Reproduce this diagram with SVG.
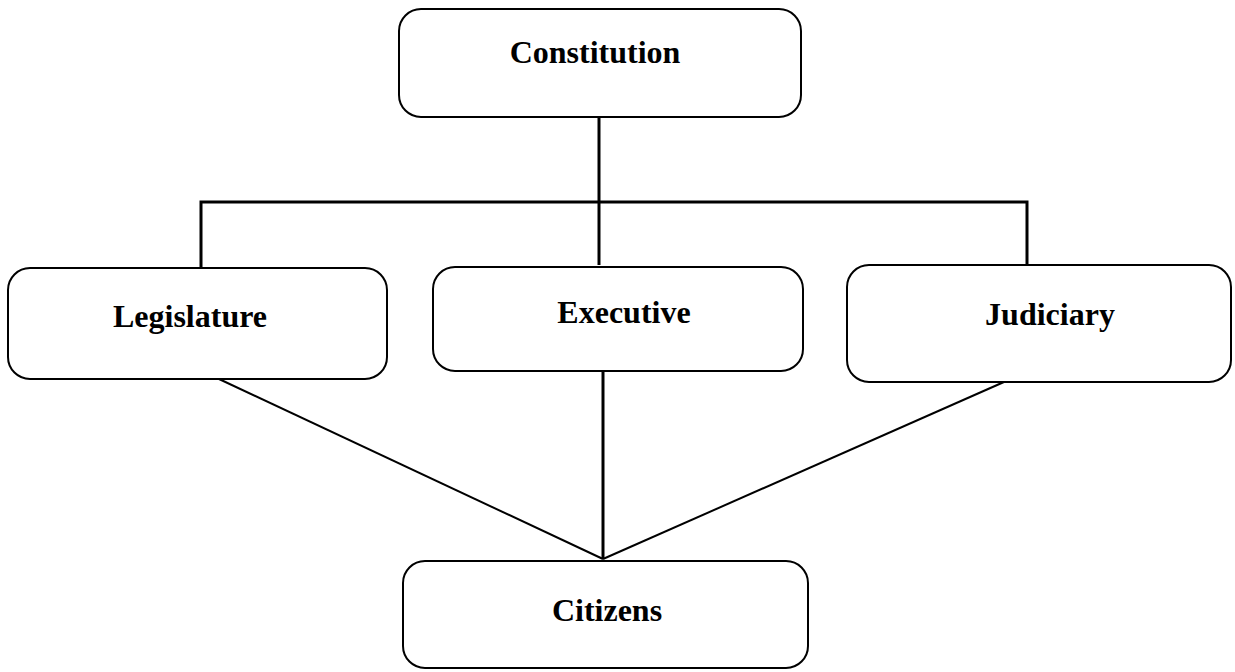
<svg xmlns="http://www.w3.org/2000/svg" width="1235" height="672" viewBox="0 0 1235 672">
<style>
.box{fill:#fff;stroke:#000;stroke-width:2}
.lbl{font-family:"Liberation Serif","Times New Roman",serif;font-weight:bold;font-size:32px;text-anchor:middle;fill:#000}
.thick{stroke:#000;stroke-width:3;fill:none}
.thin{stroke:#000;stroke-width:2;fill:none}
</style>
<rect width="1235" height="672" fill="#fff"/>
<g id="connectors">
<line class="thick" x1="599" y1="117" x2="599" y2="202"/>
<polyline class="thick" points="201,268 201,202 1027,202 1027,267"/>
<line class="thick" x1="599" y1="202" x2="599" y2="265"/>
<line class="thin" x1="219" y1="379" x2="603" y2="559"/>
<line class="thick" x1="603" y1="368" x2="603" y2="559"/>
<line class="thin" x1="1013" y1="378" x2="603" y2="559"/>
</g>
<g id="constitution">
<rect class="box" x="399" y="9" width="402" height="108" rx="22"/>
<text class="lbl" x="595" y="63">Constitution</text>
</g>
<g id="legislature">
<rect class="box" x="8" y="268" width="379" height="111" rx="22"/>
<text class="lbl" x="190" y="327">Legislature</text>
</g>
<g id="executive">
<rect class="box" x="433" y="267" width="370" height="104" rx="22"/>
<text class="lbl" x="624" y="323">Executive</text>
</g>
<g id="judiciary">
<rect class="box" x="847" y="265" width="384" height="117" rx="22"/>
<text class="lbl" x="1050" y="325">Judiciary</text>
</g>
<g id="citizens">
<rect class="box" x="403" y="561" width="405" height="107" rx="22"/>
<text class="lbl" x="607" y="621">Citizens</text>
</g>
</svg>
